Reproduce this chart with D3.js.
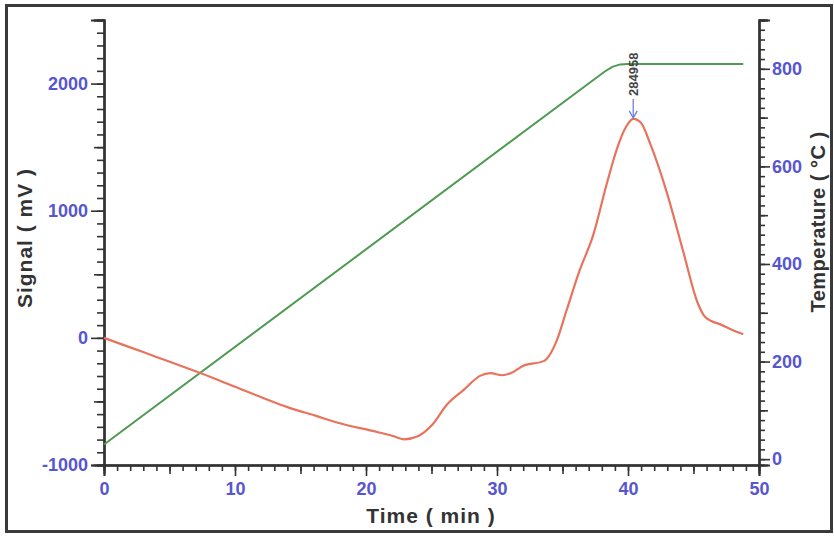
<!DOCTYPE html>
<html>
<head>
<meta charset="utf-8">
<script src="https://cdn.jsdelivr.net/npm/d3@7"></script>
<style>
  body { margin: 0; background: #fff; }
  svg { font-family: Arial, "Liberation Sans", sans-serif; }
</style>
</head>
<body>
<div id="canvas"></div>
<script>
// time (min) vs signal (mV)
const signalTime = [0, 2, 4, 6, 7.45, 10, 12.4, 14, 16.2, 18, 20.5, 22, 22.9, 24, 25, 26.2, 27.5, 28.7, 29.5, 30.4, 31.2, 32, 33.6, 34.55, 35.3, 36.3, 37.35, 38.4, 39.2, 39.8, 40.4, 41, 41.7, 43, 44.2, 45.3, 45.8, 46.4, 47, 48, 48.8];
const signalValue = [0, -75, -150, -225, -281, -385, -483, -545, -614, -672, -732, -770, -798, -772, -690, -522, -405, -299, -278, -294, -270, -220, -181, -24, 213, 528, 810, 1220, 1500, 1650, 1722, 1690, 1525, 1131, 685, 280, 175, 130, 108, 60, 29];

// time (min) vs furnace temperature (°C)
const tempTime = [0, 38.2, 38.8, 39.4, 40, 48.8];
const tempValue = [30, 794, 804, 809, 810, 810];

const peakTime = 40.4;
const peakLabel = "284958";

const xTicks = [0, 10, 20, 30, 40, 50];
const leftTicks = [-1000, 0, 1000, 2000];
const rightTicks = [0, 200, 400, 600, 800];

const signal = signalTime.map((t, i) => ({ t: t, v: signalValue[i] }));
const temp = tempTime.map((t, i) => ({ t: t, v: tempValue[i] }));

let width = 834, height = 536;
let plot = { left: 104, right: 759, top: 20, bottom: 465 };

let svg = d3.select("#canvas")
  .append("svg")
  .attr("width", width)
  .attr("height", height);

// outer frame
svg.append("rect")
  .attr("x", 6.5).attr("y", 5.5)
  .attr("width", 825).attr("height", 526)
  .attr("fill", "none")
  .attr("stroke", "#3a3a3a")
  .attr("stroke-width", 3);

let xScale = d3.scaleLinear().domain([0, 50]).range([plot.left, plot.right]);
let yLeft = d3.scaleLinear().domain([-1000, 2500]).range([plot.bottom, plot.top]);
let yRight = d3.scaleLinear().domain([-12, 900]).range([plot.bottom, plot.top]);

const labelColor = "#5656cf";
const axisColor = "#333";
const plain = d => String(d); // keep ascii hyphen for negatives

function styleAxis(g) {
  g.select(".domain").attr("stroke", axisColor).attr("stroke-width", 2);
  g.selectAll(".tick line").attr("stroke", axisColor).attr("stroke-width", 1.6);
  g.selectAll(".tick text")
    .attr("fill", labelColor)
    .style("font-size", "18px")
    .style("font-weight", "bold");
}

// x axis: minor every 1, medium every 5, major every 10
svg.append("g")
  .attr("transform", "translate(0," + plot.bottom + ")")
  .call(d3.axisBottom(xScale).tickValues(d3.range(0, 51, 1)).tickSize(6).tickFormat(""))
  .call(styleAxis);
svg.append("g")
  .attr("transform", "translate(0," + plot.bottom + ")")
  .call(d3.axisBottom(xScale).tickValues(d3.range(5, 50, 10)).tickSize(9).tickFormat(""))
  .call(styleAxis);
svg.append("g")
  .attr("transform", "translate(0," + plot.bottom + ")")
  .call(d3.axisBottom(xScale).tickValues(xTicks).tickSize(11).tickPadding(6).tickFormat(plain))
  .call(styleAxis);

// left axis
svg.append("g")
  .attr("transform", "translate(" + plot.left + ",0)")
  .call(d3.axisLeft(yLeft).tickValues(d3.range(-1000, 2501, 100)).tickSize(7).tickFormat(""))
  .call(styleAxis);
svg.append("g")
  .attr("transform", "translate(" + plot.left + ",0)")
  .call(d3.axisLeft(yLeft).tickValues([-500, 500, 1500, 2500]).tickSize(10).tickFormat(""))
  .call(styleAxis);
svg.append("g")
  .attr("transform", "translate(" + plot.left + ",0)")
  .call(d3.axisLeft(yLeft).tickValues(leftTicks).tickSize(13).tickPadding(3).tickFormat(plain))
  .call(styleAxis);

// right axis
svg.append("g")
  .attr("transform", "translate(" + plot.right + ",0)")
  .call(d3.axisRight(yRight).tickValues(d3.range(0, 901, 20)).tickSize(6).tickFormat(""))
  .call(styleAxis);
svg.append("g")
  .attr("transform", "translate(" + plot.right + ",0)")
  .call(d3.axisRight(yRight).tickValues([100, 300, 500, 700, 900]).tickSize(9).tickFormat(""))
  .call(styleAxis);
svg.append("g")
  .attr("transform", "translate(" + plot.right + ",0)")
  .call(d3.axisRight(yRight).tickValues(rightTicks).tickSize(11).tickPadding(2).tickFormat(plain))
  .call(styleAxis);

// temperature line
let tempLine = d3.line()
  .x(d => xScale(d.t))
  .y(d => yRight(d.v));

svg.append("path")
  .datum(temp)
  .attr("fill", "none")
  .attr("stroke", "#4f9a52")
  .attr("stroke-width", 2)
  .attr("d", tempLine);

// signal line
let signalLine = d3.line()
  .x(d => xScale(d.t))
  .y(d => yLeft(d.v))
  .curve(d3.curveMonotoneX);

svg.append("path")
  .datum(signal)
  .attr("fill", "none")
  .attr("stroke", "#e8735c")
  .attr("stroke-width", 2.2)
  .attr("d", signalLine);

// peak marker
let px = xScale(peakTime);
let py = yLeft(d3.max(signalValue));
svg.append("line")
  .attr("x1", px).attr("x2", px)
  .attr("y1", py - 20).attr("y2", py - 2)
  .attr("stroke", "#6f7fe0").attr("stroke-width", 1.3);
svg.append("path")
  .attr("d", "M" + (px - 4) + "," + (py - 8) + "L" + px + "," + (py - 1) + "L" + (px + 4) + "," + (py - 8))
  .attr("fill", "none")
  .attr("stroke", "#6f7fe0").attr("stroke-width", 1.3);
svg.append("text")
  .attr("transform", "translate(" + (px + 4.5) + "," + (py - 23) + ") rotate(-90)")
  .attr("text-anchor", "start")
  .style("font-size", "13px")
  .style("font-weight", "bold")
  .attr("fill", "#444")
  .text(peakLabel);

// axis titles
function title(sel) {
  sel.attr("text-anchor", "middle")
    .style("font-size", "21px")
    .style("font-weight", "bold")
    .style("letter-spacing", "1px")
    .attr("fill", "#333");
}

svg.append("text")
  .attr("transform", "translate(32,238) rotate(-90)")
  .call(title)
  .text("Signal ( mV )");

svg.append("text")
  .attr("x", 431)
  .attr("y", 523)
  .call(title)
  .text("Time ( min )");

svg.append("text")
  .attr("transform", "translate(825,222) rotate(-90)")
  .call(title)
  .style("font-size", "20px")
  .style("letter-spacing", "0.5px")
  .text("Temperature ( °C )");
</script>
</body>
</html>
